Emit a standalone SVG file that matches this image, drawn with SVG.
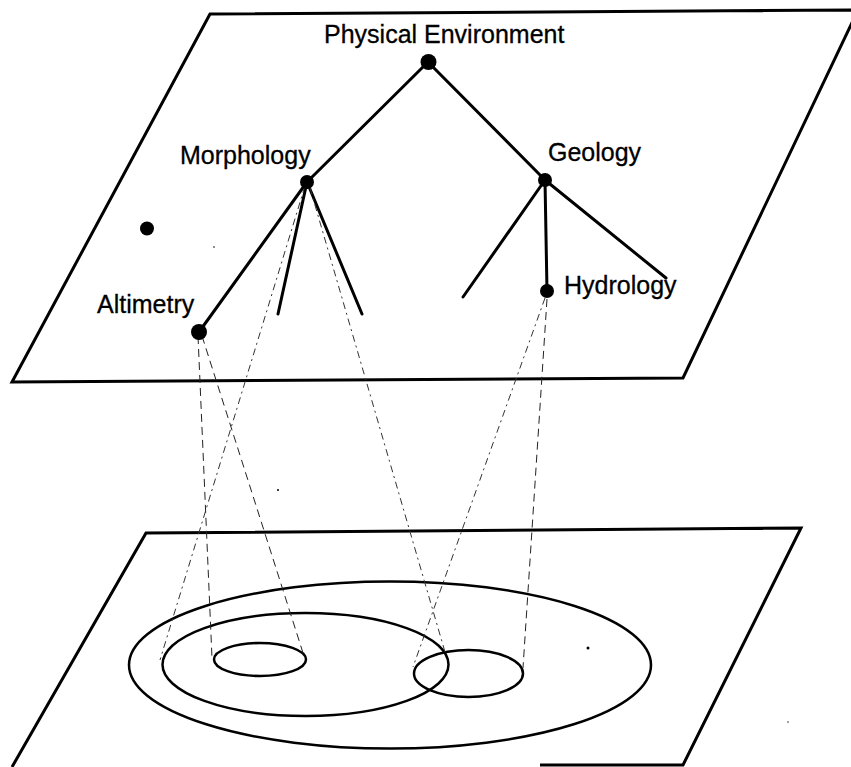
<svg xmlns="http://www.w3.org/2000/svg" width="851" height="767" viewBox="0 0 851 767">
<style>
.plane{fill:none;stroke:#000;stroke-width:3;stroke-linejoin:miter}
.edge{stroke:#000;stroke-width:3;stroke-linecap:round;fill:none}
.proj{stroke:#222;stroke-width:1;fill:none;stroke-dasharray:8 5}
.projdd{stroke:#333;stroke-width:1;fill:none;stroke-dasharray:7 4 2 4}
.region{fill:none;stroke:#000;stroke-width:2.5}
.node{fill:#000}
.lbl{font-family:"Liberation Sans",Arial,sans-serif;font-size:25px;fill:#000;stroke:#000;stroke-width:0.3}
.speck{fill:#000}
</style>
<rect width="851" height="767" fill="#fff"/>
<g id="top-plane">
<path class="plane" d="M210 14 L858 10 L683 378 L12 382 Z"/>
</g>
<g id="bottom-plane">
<path class="plane" d="M540 765 L683 765 L801 528 L146 533 L12 767"/>
</g>
<g id="regions">
<ellipse id="r-outer" class="region" cx="390" cy="665" rx="261" ry="83.5"/>
<ellipse id="r-morph" class="region" cx="305.5" cy="664.5" rx="143" ry="51.5"/>
<ellipse id="r-alt" class="region" cx="260" cy="659.5" rx="46" ry="16.5"/>
<ellipse id="r-hyd" class="region" cx="468.5" cy="673.5" rx="54.5" ry="23.5"/>
</g>
<g id="connectors">
<line class="edge" x1="428" y1="62" x2="307" y2="182"/>
<line class="edge" x1="428" y1="62" x2="545" y2="180"/>
<line class="edge" x1="307" y1="182" x2="199" y2="332"/>
<line class="edge" x1="307" y1="182" x2="278" y2="314"/>
<line class="edge" x1="307" y1="182" x2="362" y2="314"/>
<line class="edge" x1="545" y1="180" x2="463" y2="297"/>
<line class="edge" x1="545" y1="180" x2="547" y2="291"/>
<line class="edge" x1="545" y1="180" x2="666" y2="278"/>
<line class="proj" x1="198" y1="336" x2="212" y2="658"/>
<line class="proj" x1="202" y1="336" x2="304" y2="656"/>
<line class="projdd" x1="305" y1="186" x2="160" y2="660"/>
<line class="projdd" x1="310" y1="188" x2="445" y2="652"/>
<line class="projdd" x1="545" y1="298" x2="413" y2="667"/>
<line class="proj" x1="547" y1="299" x2="523" y2="668"/>
</g>
<g id="n-root"><circle class="node" cx="428.5" cy="62" r="8"/><text class="lbl" x="324" y="43">Physical Environment</text></g>
<g id="n-morphology"><circle class="node" cx="307" cy="182" r="7"/><text class="lbl" x="180" y="164">Morphology</text></g>
<g id="n-geology"><circle class="node" cx="545" cy="180" r="7"/><text class="lbl" x="548" y="161">Geology</text></g>
<g id="n-hydrology"><circle class="node" cx="547" cy="291" r="7"/><text class="lbl" x="564" y="294">Hydrology</text></g>
<g id="n-altimetry"><circle class="node" cx="199" cy="332" r="8"/><text class="lbl" x="97" y="313">Altimetry</text></g>
<g id="n-dot"><circle class="node" cx="147" cy="228.5" r="7"/></g>
<g id="specks">
<circle class="speck" cx="214" cy="247" r="0.8"/>
<circle class="speck" cx="278" cy="490" r="1"/>
<circle class="speck" cx="588" cy="648" r="1.5"/>
<circle class="speck" cx="788" cy="722" r="0.7"/>
</g>
</svg>
